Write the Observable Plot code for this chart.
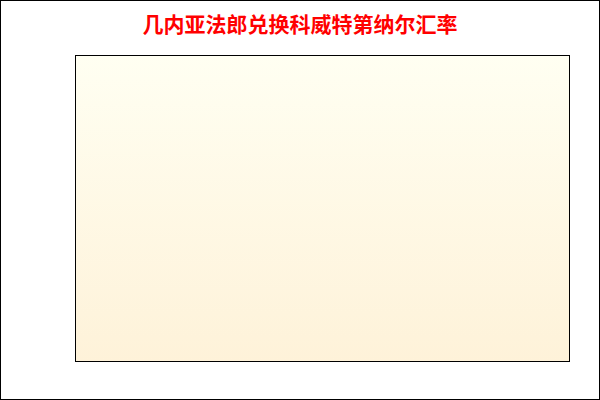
<!DOCTYPE html>
<html>
<head>
<meta charset="utf-8">
<script src="https://cdn.jsdelivr.net/npm/d3@7"></script>
<script src="https://cdn.jsdelivr.net/npm/@observablehq/plot@0.6"></script>
<style>
  html, body { margin: 0; padding: 0; background: #fff; }
  #wrap { position: relative; width: 600px; height: 400px; box-sizing: border-box; border: 1px solid #000; overflow: hidden; }
  #title { height: 44px; margin: 0; padding: 0; text-align: center; font: bold 21px "Noto Sans CJK SC", sans-serif; color: #ff0000; line-height: 44px; }
  svg { display: block; }
</style>
</head>
<body>
<div id="wrap">
  <div id="title">几内亚法郎兑换科威特第纳尔汇率</div>
  <div id="chart"></div>
</div>
<script>
// The reference chart shows no data: empty series
const dates = [];
const rates = [];
const data = dates.map((d, i) => ({date: d, rate: rates[i]}));

const gradientDefs = (index, scales, values, dimensions, context) => {
  const defs = d3.create("svg:defs");
  const g = defs.append("linearGradient").attr("id", "bggrad").attr("x1", 0).attr("y1", 0).attr("x2", 0).attr("y2", 1);
  g.append("stop").attr("offset", "0%").attr("stop-color", "#fffff2");
  g.append("stop").attr("offset", "100%").attr("stop-color", "#fef2d9");
  return defs.node();
};

const chart = Plot.plot({
  width: 598,
  height: 354,
  marginLeft: 74,
  marginRight: 30,
  marginTop: 10,
  marginBottom: 38,
  style: {background: "transparent", overflow: "visible"},
  x: {domain: [0, 1], axis: null},
  y: {domain: [0, 1], axis: null},
  marks: [
    gradientDefs,
    Plot.frame({fill: "url(#bggrad)", stroke: "#000", strokeWidth: 1}),
    Plot.line(data, {x: "date", y: "rate", stroke: "#c00"})
  ]
});
document.getElementById("chart").appendChild(chart);
</script>
</body>
</html>
